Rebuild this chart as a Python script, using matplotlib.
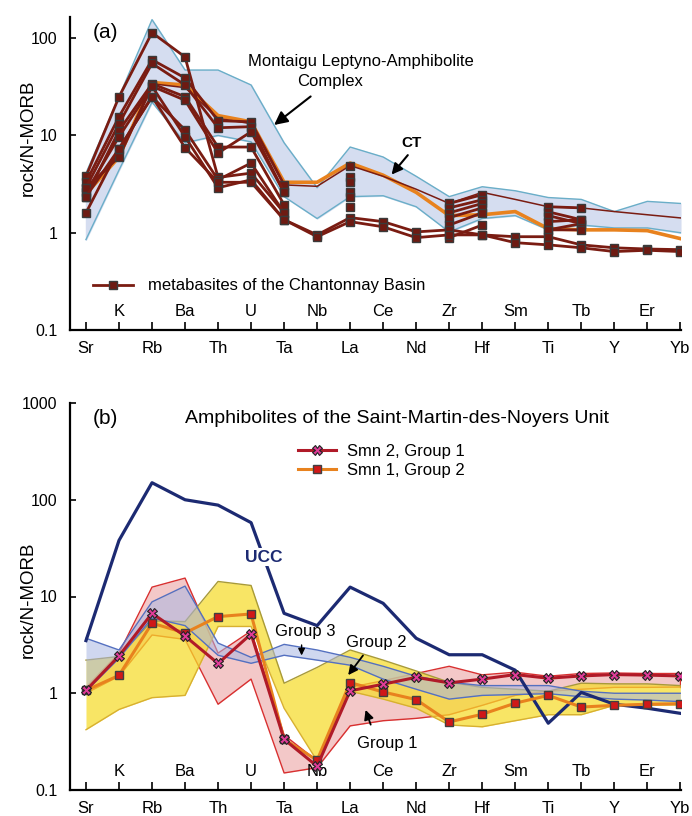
import numpy as np
from matplotlib import pyplot as plt
from matplotlib.lines import Line2D

plt.rcParams['font.family'] = ['Liberation Sans', 'DejaVu Sans']

nan = np.nan
elements = ['Sr', 'K', 'Rb', 'Ba', 'Th', 'U', 'Ta', 'Nb', 'La', 'Ce',
            'Nd', 'Zr', 'Hf', 'Sm', 'Ti', 'Tb', 'Y', 'Er', 'Yb']

# ---- panel (a): metabasites of the Chantonnay Basin ----
montaigu_upper = [4.1, 25, 155, 47, 47, 33, 8.4, 2.9, 7.6, 6.0,
                  3.8, 2.35, 2.97, 2.7, 2.3, 2.2, 1.65, 2.1, 2.0]
montaigu_lower = [0.85, 4.4, 22, 8.4, 10, 8.6, 2.35, 1.4, 2.35, 2.4,
                  1.85, 1.02, 1.4, 1.5, 1.07, 1.2, 1.12, 1.12, 1.0]
ct_orange = [2.5, 6.0, 35, 33, 16, 13.8, 3.3, 3.3, 5.2, 3.9,
             2.6, 1.5, 1.53, 1.65, 1.1, 1.07, 1.07, 1.05, 0.87]
ct_thin = [2.6, 6.2, 34, 31, 15, 13.2, 3.1, 3.0, 4.9, 3.8,
           2.8, 2.0, 2.6, 2.2, 1.85, 1.8, 1.65, 1.53, 1.42]

chantonnay = [
    [3.8, 24.9, 114, 64, 3.7, 4.1, 1.6, nan, 1.85, nan, nan, 0.89, 1.2, nan, 1.07, 1.24, nan, nan, nan],
    [3.3, 15.6, 60, 39, 14.2, 13.8, 3.1, nan, 4.9, nan, nan, 2.0, 2.46, nan, 1.85, 1.8, nan, nan, nan],
    [2.9, 13.2, 55, 33, 12.0, 12.3, 2.6, nan, 3.7, nan, nan, 1.8, 2.18, nan, 1.64, 1.36, nan, nan, nan],
    [2.35, 11.2, 34, 25, 7.6, 7.6, 1.94, nan, 3.3, nan, nan, 1.6, 2.0, nan, 1.5, 1.24, nan, nan, nan],
    [2.6, 9.7, 32, 23, 6.6, 10.9, 2.6, nan, 2.6, nan, nan, 1.43, 1.8, nan, 1.3, 1.36, nan, nan, nan],
    [1.6, 7.3, 25, 11.4, 3.5, 5.2, 1.6, nan, 2.35, nan, nan, 1.2, 1.6, nan, 1.07, 1.07, nan, nan, nan],
    [2.9, 6.0, 32, 9.7, 2.9, 3.5, 1.36, 0.95, 1.43, 1.3, 1.02, 1.07, 0.95, 0.91, 0.91, 0.75, 0.70, 0.68, 0.67],
    [2.35, 7.3, 25, 7.5, 3.3, 3.3, 1.36, 0.91, 1.3, 1.15, 0.89, 0.95, 0.95, 0.79, 0.75, 0.70, 0.64, 0.66, 0.64],
]

# ---- panel (b): Saint-Martin-des-Noyers Unit ----
ucc = [3.5, 38, 150, 100, 88, 58, 6.7, 5.0, 12.5, 8.5,
       3.7, 2.5, 2.5, 1.73, 0.49, 1.02, 0.77, 0.70, 0.62]
smn2 = [1.07, 2.43, 6.7, 3.9, 2.03, 4.1, 0.334, 0.176, 1.06, 1.24,
        1.46, 1.28, 1.40, 1.56, 1.43, 1.51, 1.56, 1.54, 1.51]
smn1 = [1.07, 1.53, 5.3, 4.2, 6.2, 6.6, 0.334, 0.203, 1.29, 1.03,
        0.86, 0.505, 0.607, 0.79, 0.95, 0.72, 0.75, 0.77, 0.78]

g1_upper = [1.15, 2.6, 12.5, 15.5, 2.6, 4.4, 0.37, 0.2, 1.15, 1.35,
            1.6, 1.9, 1.55, 1.65, 1.5, 1.6, 1.62, 1.6, 1.6]
g1_lower = [1.0, 1.5, 4.0, 3.6, 0.77, 1.4, 0.15, 0.17, 0.46, 0.52,
            0.55, 0.6, 0.75, 0.95, 1.05, 1.1, 1.15, 1.15, 1.16]
g2_upper = [2.2, 2.4, 5.6, 5.5, 14.3, 13, 1.27, 1.85, 2.8, 2.2,
            1.7, 1.3, 1.15, 1.1, 1.05, 1.27, 1.25, 1.25, 1.2]
g2_lower = [0.42, 0.68, 0.9, 0.95, 4.9, 4.9, 0.70, 0.2, 1.05, 0.87,
            0.7, 0.47, 0.45, 0.52, 0.6, 0.6, 0.75, 0.75, 0.76]
g3_upper = [3.7, 2.8, 8.8, 12.8, 3.3, 2.35, 3.2, 2.8, 2.35, 1.9,
            1.5, 1.3, 1.2, 1.2, 1.2, 1.05, 1.0, 1.0, 1.0]
g3_lower = [1.05, 2.3, 6.0, 5.0, 2.47, 2.04, 2.47, 2.2, 1.95, 1.4,
            1.1, 0.87, 0.95, 0.97, 0.99, 0.92, 0.87, 0.85, 0.82]

x = np.arange(len(elements))

maroon = '#7a1c12'
orange = '#e8821e'

fig = plt.figure(figsize=(6.92, 8.16), dpi=100)
ax_a = fig.add_axes([70 / 692, 1 - 330 / 816, 611 / 692, 313 / 816])
ax_b = fig.add_axes([70 / 692, 1 - 790 / 816, 611 / 692, 387 / 816])


def style_axis(ax, ymax, yticks, ylabels):
    ax.set_yscale('log')
    ax.set_xlim(-0.484, 18.02)
    ax.set_ylim(0.1, ymax)
    ax.spines['top'].set_visible(False)
    ax.spines['right'].set_visible(False)
    ax.spines['left'].set_linewidth(1.6)
    ax.spines['bottom'].set_linewidth(1.6)
    ax.set_xticks(x)
    ax.set_xticklabels([])
    ax.tick_params(axis='x', direction='in', length=6, width=1.2)
    ax.set_yticks(yticks)
    ax.set_yticklabels(ylabels, fontsize=11.5)
    ax.yaxis.set_minor_locator(plt.NullLocator())
    ax.tick_params(axis='y', direction='in', length=4, width=1.2, pad=9)
    for i, el in enumerate(elements):
        dy = -13 if i % 2 == 0 else 13
        ax.annotate(el, xy=(i, 0), xycoords=('data', 'axes fraction'),
                    xytext=(0, dy), textcoords='offset points',
                    ha='center', va='center', fontsize=12,
                    annotation_clip=False)


# panel (a)
ax = ax_a
style_axis(ax, 165, [0.1, 1, 10, 100], ['0.1', '1', '10', '100'])
ax.fill_between(x, montaigu_lower, montaigu_upper, color='#d5ddf0', zorder=1)
ax.plot(x, montaigu_upper, color='#6aaec8', lw=1, zorder=1.5)
ax.plot(x, montaigu_lower, color='#6aaec8', lw=1, zorder=1.5)
ax.plot(x, ct_orange, color=orange, lw=2.6, zorder=2)
ax.plot(x, ct_thin, color=maroon, lw=1.1, zorder=2.5)
for s in chantonnay:
    ax.plot(x, s, color=maroon, lw=2, marker='s', ms=5.5,
            mfc='#6e1a12', mec='#3a3a3a', mew=1, zorder=3)

ax.text(0.6, 115, '(a)', fontsize=15, ha='center', va='center')
ax.text(4.9, 57, 'Montaigu Leptyno-Amphibolite', fontsize=12, ha='left', va='center')
ax.text(6.38, 35.6, 'Complex', fontsize=12, ha='left', va='center')
ax.annotate('', xy=(5.63, 12.3), xytext=(6.87, 26.2),
            arrowprops=dict(arrowstyle='-|>', color='black', lw=1.5, mutation_scale=20))
ax.text(9.86, 8.4, 'CT', fontsize=11, fontweight='bold', ha='center', va='center')
ax.annotate('', xy=(9.2, 3.76), xytext=(9.8, 6.6),
            arrowprops=dict(arrowstyle='-|>', color='black', lw=1.5, mutation_scale=16))

leg_a = [Line2D([0], [0], color=maroon, lw=2, marker='s', ms=5.5,
                mfc='#6e1a12', mec='#3a3a3a', mew=1)]
ax.legend(leg_a, ['metabasites of the Chantonnay Basin'], loc='center left',
          bbox_to_anchor=(0.0376, 0.1406), frameon=False, fontsize=12,
          handlelength=2.4, handletextpad=0.9, borderpad=0, borderaxespad=0)

# panel (b)
ax = ax_b
style_axis(ax, 1000, [0.1, 1, 10, 100, 1000], ['0.1', '1', '10', '100', '1000'])
ax.fill_between(x, g1_lower, g1_upper, color='#eba4a4', alpha=0.6, lw=0, zorder=1)
ax.plot(x, g1_upper, color='#d83030', lw=1, zorder=1.1)
ax.plot(x, g1_lower, color='#d83030', lw=1, zorder=1.1)
ax.plot([18, 18], [g1_lower[-1], g1_upper[-1]], color='#d83030', lw=1, zorder=1.1)
ax.fill_between(x, g2_lower, g2_upper, color='#f6dc2a', alpha=0.72, lw=0, zorder=1.2)
ax.plot(x, g2_upper, color='#a89a38', lw=1, zorder=1.3)
ax.plot(x, g2_lower, color='#d8b030', lw=1, zorder=1.3)
ax.fill_between(x, g3_lower, g3_upper, color='#a9b6e2', alpha=0.55, lw=0, zorder=1.4)
ax.plot(x, g3_upper, color='#5470c0', lw=1, zorder=1.5)
ax.plot(x, g3_lower, color='#5470c0', lw=1, zorder=1.5)

ax.plot(x, ucc, color='#1c2a72', lw=2.3, zorder=2)
l2, = ax.plot(x, smn2, color='#b01a28', lw=2.2, marker='X', ms=6.5,
              mfc='#e03c98', mec='#222222', mew=0.8, zorder=3.5)
l1, = ax.plot(x, smn1, color=orange, lw=2.2, marker='s', ms=5.5,
              mfc='#d01818', mec='#404040', mew=1, zorder=3)

ax.text(0.575, 698, '(b)', fontsize=15, ha='center', va='center')
ax.text(9.41, 698, 'Amphibolites of the Saint-Martin-des-Noyers Unit',
        fontsize=14, ha='center', va='center')
ax.text(5.38, 25.5, 'UCC', fontsize=12.5, fontweight='bold', color='#1c2a72',
        ha='center', va='center', zorder=2.5,
        bbox=dict(facecolor='white', edgecolor='none', pad=1))
ax.text(6.64, 4.38, 'Group 3', fontsize=12, ha='center', va='center', zorder=4)
ax.annotate('', xy=(6.53, 2.3), xytext=(6.53, 3.37),
            arrowprops=dict(arrowstyle='-|>', color='black', lw=1, mutation_scale=10), zorder=4)
ax.text(8.8, 3.37, 'Group 2', fontsize=12, ha='center', va='center', zorder=4)
ax.annotate('', xy=(7.89, 1.46), xytext=(8.44, 2.59),
            arrowprops=dict(arrowstyle='-|>', color='black', lw=1.3, mutation_scale=14), zorder=4)
ax.text(9.13, 0.304, 'Group 1', fontsize=12, ha='center', va='center', zorder=4)
ax.annotate('', xy=(8.44, 0.716), xytext=(8.65, 0.445),
            arrowprops=dict(arrowstyle='-|>', color='black', lw=1.3, mutation_scale=14), zorder=4)

ax.legend([l2, l1], ['Smn 2, Group 1', 'Smn 1, Group 2'], loc='center left',
          bbox_to_anchor=(0.373, 0.850), frameon=False, fontsize=12,
          handlelength=2.3, handletextpad=0.65, labelspacing=0.25,
          borderpad=0, borderaxespad=0)

fig.text(28 / 692, 1 - 138 / 816, 'rock/N-MORB', rotation=90, fontsize=13.5,
         ha='center', va='center')
fig.text(28 / 692, 1 - 600 / 816, 'rock/N-MORB', rotation=90, fontsize=13.5,
         ha='center', va='center')

fig.savefig('out.png', dpi=100)
